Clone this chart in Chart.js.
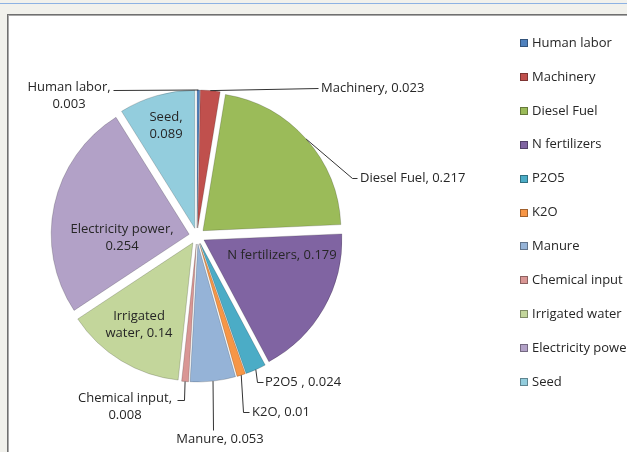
<!DOCTYPE html>
<html>
<head>
<meta charset="utf-8">
<script src="https://cdn.jsdelivr.net/npm/chart.js@4"></script>
<style>
html, body { margin: 0; padding: 0; background: #f1f1ec; overflow: hidden; }
#topline { position: absolute; left: 0; top: 3px; width: 627px; height: 1px; background: #8db2e3; }
#frame { position: absolute; left: 7px; top: 14px; width: 620px; height: 438px; background: #fff;
  border-left: 1px solid #707070; border-top: 1px solid #707070; box-shadow: inset 1px 1px 0 #a8a8a8; }
#pie { position: absolute; left: 0; top: 0; }
</style>
</head>
<body>
<div id="topline"></div>
<div id="frame"></div>
<canvas id="pie" width="627" height="452"></canvas>
<script>
// energy input shares
var categories = ['Human labor', 'Machinery', 'Diesel Fuel', 'N fertilizers', 'P2O5 ', 'K2O', 'Manure',
                  'Chemical input', 'Irrigated water', 'Electricity power', 'Seed'];
var values = [0.003, 0.023, 0.217, 0.179, 0.024, 0.01, 0.053, 0.008, 0.14, 0.254, 0.089];
var colors = ['#4F81BD', '#C0504D', '#9BBB59', '#8064A2', '#4BACC6', '#F79646', '#95B3D7',
              '#D99694', '#C3D69B', '#B2A1C7', '#93CDDD'];

// where excel put each data label (br: 'v' = value on 2nd line, 1 = break after first word, 0 = one line)
var labelSpots = [
  { x: 69,  y: 87,  align: 'center', br: 'v', leader: [[113, 90]] },
  { x: 321, y: 88,  align: 'left',   br: 0,   leader: [[318, 88]] },
  { x: 360, y: 178, align: 'left',   br: 0,   leader: [[352, 178], [357, 178]] },
  { x: 282, y: 255, align: 'center', br: 0 },
  { x: 265, y: 382, align: 'left',   br: 0,   leader: [[257, 382], [263, 382]] },
  { x: 252, y: 412, align: 'left',   br: 0,   leader: [[243, 412], [249, 412]] },
  { x: 220, y: 439, align: 'center', br: 0,   leader: [[213, 430]] },
  { x: 125, y: 398, align: 'center', br: 'v', leader: [[184, 400], [177, 400]] },
  { x: 139, y: 316, align: 'center', br: 1 },
  { x: 122, y: 229, align: 'center', br: 'v' },
  { x: 166, y: 117, align: 'center', br: 'v' }
];

var FONT = '13px "Open Sans", sans-serif';
var TXT = '#262626';
var explode = 8;

function labelLines(i) {
  var s = labelSpots[i];
  var full = categories[i] + ', ' + values[i];
  if (s.br === 'v') return [categories[i] + ',', String(values[i])];
  if (s.br === 1) {
    var k = full.indexOf(' ');
    return [full.slice(0, k), full.slice(k + 1)];
  }
  return [full];
}

var explodePlugin = {
  id: 'explode',
  afterUpdate: function (chart) {
    chart.getDatasetMeta(0).data.forEach(function (a) {
      var m = (a.startAngle + a.endAngle) / 2;
      a.x += Math.cos(m) * explode;
      a.y += Math.sin(m) * explode;
    });
  }
};

var labelPlugin = {
  id: 'excelLabels',
  afterDatasetsDraw: function (chart) {
    var ctx = chart.ctx;
    var arcs = chart.getDatasetMeta(0).data;
    ctx.save();
    // leader lines
    ctx.strokeStyle = '#333';
    ctx.lineWidth = 1;
    arcs.forEach(function (a, i) {
      var s = labelSpots[i];
      if (!s.leader) return;
      var m = (a.startAngle + a.endAngle) / 2;
      ctx.beginPath();
      ctx.moveTo(a.x + Math.cos(m) * a.outerRadius, a.y + Math.sin(m) * a.outerRadius);
      s.leader.forEach(function (p) { ctx.lineTo(p[0] + 0.5, p[1] + 0.5); });
      ctx.stroke();
    });
    // label text
    ctx.font = FONT;
    ctx.fillStyle = TXT;
    ctx.textBaseline = 'middle';
    arcs.forEach(function (a, i) {
      var s = labelSpots[i];
      ctx.textAlign = s.align;
      labelLines(i).forEach(function (t, j) { ctx.fillText(t, s.x, s.y + j * 17); });
    });
    // legend
    ctx.textAlign = 'left';
    categories.forEach(function (c, i) {
      var y = 43 + i * 33.9;
      ctx.fillStyle = colors[i];
      ctx.fillRect(520, Math.round(y) - 4, 8, 8);
      ctx.strokeStyle = 'rgba(0,0,0,0.35)';
      ctx.strokeRect(520.5, Math.round(y) - 3.5, 7, 7);
      ctx.fillStyle = TXT;
      ctx.fillText(c.trim(), 532, y);
    });
    ctx.restore();
  }
};

new Chart(document.getElementById('pie').getContext('2d'), {
  type: 'pie',
  data: {
    labels: categories,
    datasets: [{
      data: values,
      backgroundColor: colors,
      borderColor: 'rgba(0,0,0,0.18)',
      borderWidth: 1
    }]
  },
  options: {
    responsive: false,
    animation: false,
    events: [],
    radius: 138,
    layout: { padding: { left: 40, right: 273, top: 40, bottom: 20 } },
    plugins: { legend: { display: false }, tooltip: { enabled: false } }
  },
  plugins: [explodePlugin, labelPlugin]
});
</script>
</body>
</html>
